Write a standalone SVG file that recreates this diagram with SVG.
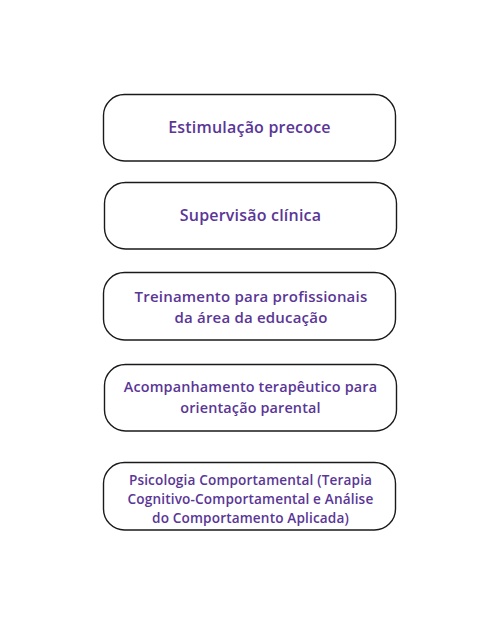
<svg xmlns="http://www.w3.org/2000/svg" width="500" height="625" viewBox="0 0 500 625">
<style>
.box{fill:#fff;stroke:#1a1a1a;stroke-width:1.4}
.t{font-family:"Open Sans","Noto Sans",sans-serif;font-weight:600;font-size:14px;letter-spacing:0.15px;fill:#5a3696;text-anchor:middle}
.s{font-size:16px;letter-spacing:0.2px}
.a{font-size:15px;letter-spacing:0.2px}
.b{font-size:14.4px}
.c{font-size:13.6px}
</style>
<rect width="500" height="625" fill="#fff"/>
<g id="n1"><rect class="box" x="103.5" y="94.5" width="292" height="66.5" rx="21"/><text class="t s" x="249.5" y="133">Estimulação precoce</text></g>
<g id="n2"><rect class="box" x="104.5" y="182.5" width="292" height="66.5" rx="21"/><text class="t s" x="250.5" y="221">Supervisão clínica</text></g>
<g id="n3"><rect class="box" x="103.5" y="272.5" width="292" height="67.5" rx="21"/><text class="t a" x="251" y="302">Treinamento para profissionais</text><text class="t a" x="251" y="323">da área da educação</text></g>
<g id="n4"><rect class="box" x="104.5" y="364.5" width="292" height="66.5" rx="21"/><text class="t b" x="250.5" y="392">Acompanhamento terapêutico para</text><text class="t b" x="250.5" y="413">orientação parental</text></g>
<g id="n5"><rect class="box" x="103.5" y="462.5" width="292" height="67.5" rx="21"/><text class="t c" x="250.5" y="484.5">Psicologia Comportamental (Terapia</text><text class="t c" x="250.5" y="504">Cognitivo-Comportamental e Análise</text><text class="t c" x="250.5" y="523">do Comportamento Aplicada)</text></g>
<g id="connectors"></g>
</svg>
